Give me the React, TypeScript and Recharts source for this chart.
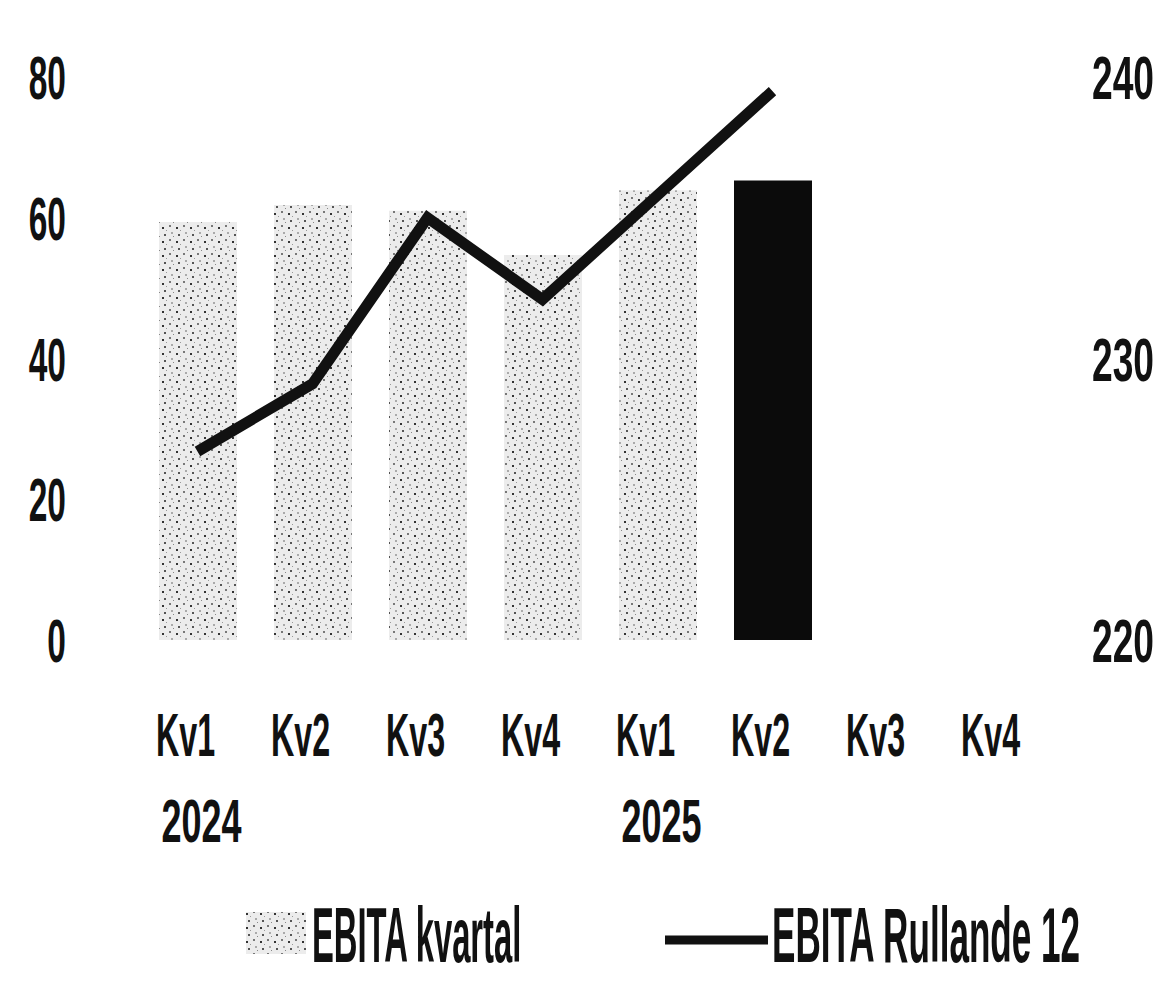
import React from "react";
import {
  ComposedChart,
  Bar,
  Line,
  XAxis,
  YAxis,
  Cell,
} from "recharts";

// categories
const quarters = ["Kv1", "Kv2", "Kv3", "Kv4", "Kv1", "Kv2", "Kv3", "Kv4"];
const years = ["2024", "", "", "", "2025", "", "", ""];

// series
const ebitaKvartal = [59.4, 61.8, 61.0, 54.7, 63.9, 65.3, null, null];
const ebitaRullande = [226.7, 229.1, 235.0, 232.1, 235.8, 239.5, null, null];

// ticks
const leftTicks = [0, 20, 40, 60, 80];
const rightTicks = [220, 230, 240];

const chartData = quarters.map((q, i) => ({
  quarter: q,
  year: years[i],
  kvartal: ebitaKvartal[i],
  rullande: ebitaRullande[i],
}));

const FONT = "'Liberation Sans', Arial, sans-serif";
const INK = "#111";

function SpeckleDefs({ id }: { id: string }) {
  return (
    <defs>
      <pattern id={id} width="14" height="14" patternUnits="userSpaceOnUse">
        <rect width="14" height="14" fill="#ececec" />
        <rect x="1" y="1" width="2" height="2" fill="#777" />
        <rect x="8" y="3" width="2" height="2" fill="#333" />
        <rect x="3" y="8" width="2" height="2" fill="#aaa" />
        <rect x="10" y="10" width="2" height="2" fill="#555" />
        <rect x="5" y="12" width="1" height="1" fill="#888" />
        <rect x="12" y="6" width="1" height="1" fill="#999" />
      </pattern>
    </defs>
  );
}

const XTick = (props: any) => {
  const { x, y, payload } = props;
  const i = payload.index;
  return (
    <g transform={`translate(${x},${y})`}>
      <text
        transform="translate(-12,0) scale(0.52,1)"
        x={0}
        y={108}
        textAnchor="middle"
        fontSize={62}
        fontWeight="bold"
        fontFamily={FONT}
        fill={INK}
      >
        {quarters[i]}
      </text>
      {years[i] ? (
        <text
          transform="translate(4,0) scale(0.58,1)"
          x={0}
          y={194}
          textAnchor="middle"
          fontSize={62}
          fontWeight="bold"
          fontFamily={FONT}
          fill={INK}
        >
          {years[i]}
        </text>
      ) : null}
    </g>
  );
};

const LeftTick = (props: any) => {
  const { y, payload } = props;
  return (
    <g transform={`translate(66,${y})`}>
      <text
        transform="scale(0.54,1)"
        textAnchor="end"
        dy={22}
        fontSize={62}
        fontWeight="bold"
        fontFamily={FONT}
        fill={INK}
      >
        {payload.value}
      </text>
    </g>
  );
};

const RightTick = (props: any) => {
  const { y, payload } = props;
  return (
    <g transform={`translate(1092,${y})`}>
      <text
        transform="scale(0.6,1)"
        textAnchor="start"
        dy={22}
        fontSize={62}
        fontWeight="bold"
        fontFamily={FONT}
        fill={INK}
      >
        {payload.value}
      </text>
    </g>
  );
};

function LegendBox() {
  return (
    <svg
      width={1163}
      height={990}
      style={{ position: "absolute", left: 0, top: 0, pointerEvents: "none" }}
    >
      <SpeckleDefs id="legendSpeckle" />
      <rect x={246} y={912} width={60} height={42} fill="url(#legendSpeckle)" />
      <g transform="translate(312,962) scale(0.42,1)">
        <text fontSize={78} fontWeight="bold" fontFamily={FONT} fill={INK}>
          EBITA kvartal
        </text>
      </g>
      <line x1={665} x2={768} y1={940} y2={940} stroke={INK} strokeWidth={9} />
      <g transform="translate(772,962) scale(0.45,1)">
        <text fontSize={78} fontWeight="bold" fontFamily={FONT} fill={INK}>
          EBITA Rullande 12
        </text>
      </g>
    </svg>
  );
}

export default function App() {
  return (
    <div
      style={{
        position: "absolute",
        left: 0,
        top: 0,
        width: 1163,
        height: 990,
        background: "#fff",
      }}
    >
      <ComposedChart
        width={1163}
        height={990}
        data={chartData}
        margin={{ top: 77, right: 0, bottom: 0, left: 0 }}
      >
        <SpeckleDefs id="barSpeckle" />
        <XAxis
          dataKey="quarter"
          height={350}
          axisLine={false}
          tickLine={false}
          interval={0}
          tick={<XTick />}
        />
        <YAxis
          yAxisId="left"
          width={140}
          domain={[0, 80]}
          ticks={leftTicks}
          axisLine={false}
          tickLine={false}
          tick={<LeftTick />}
        />
        <YAxis
          yAxisId="right"
          orientation="right"
          width={103}
          domain={[220, 240]}
          ticks={rightTicks}
          axisLine={false}
          tickLine={false}
          tick={<RightTick />}
        />
        <Bar
          yAxisId="left"
          dataKey="kvartal"
          barSize={78}
          isAnimationActive={false}
        >
          {chartData.map((d, i) => (
            <Cell key={i} fill={i === 5 ? "#0b0b0b" : "url(#barSpeckle)"} />
          ))}
        </Bar>
        <Line
          yAxisId="right"
          dataKey="rullande"
          type="linear"
          stroke={INK}
          strokeWidth={11}
          dot={false}
          activeDot={false}
          isAnimationActive={false}
        />
      </ComposedChart>
      <LegendBox />
    </div>
  );
}
